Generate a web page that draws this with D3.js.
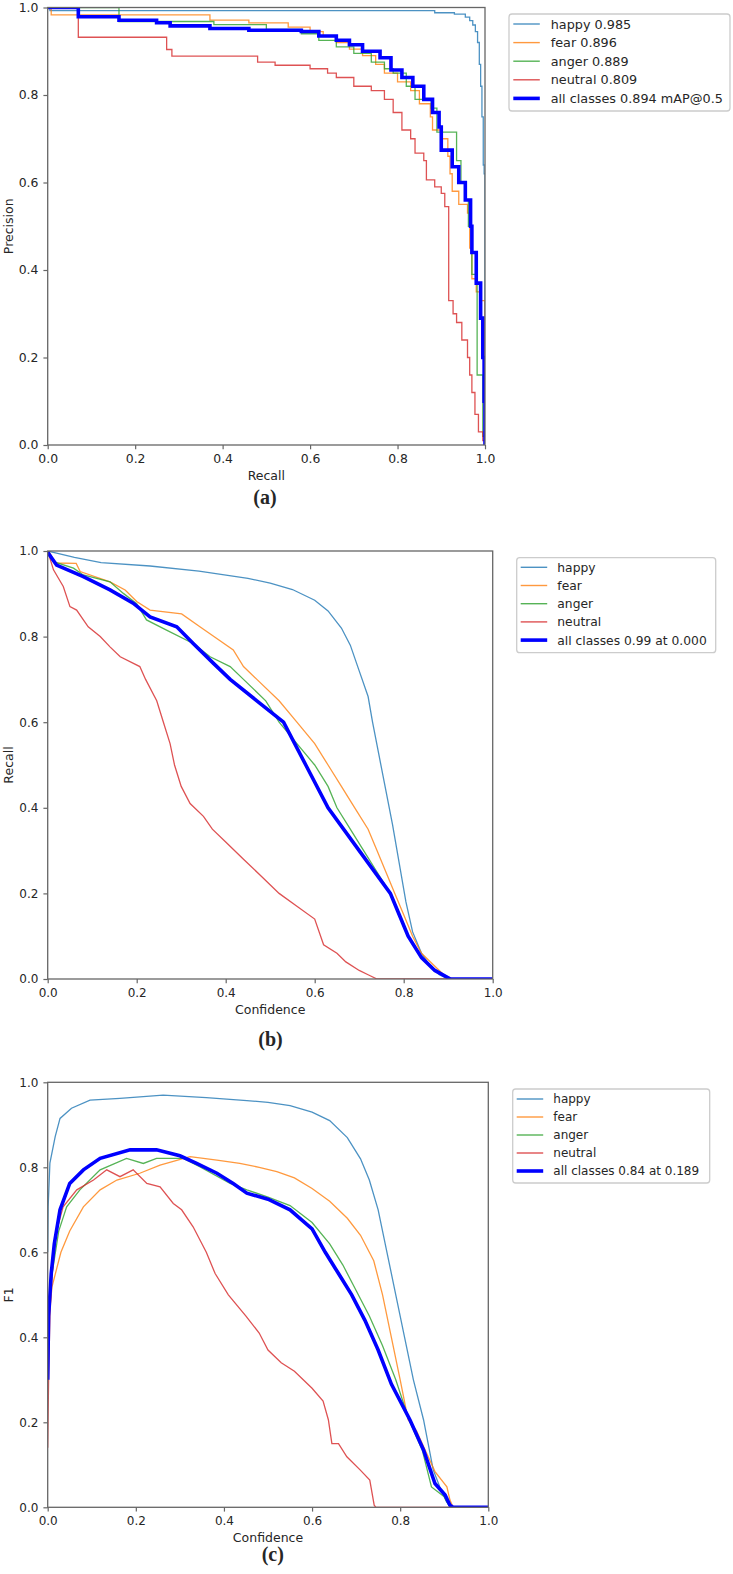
<!DOCTYPE html>
<html><head><meta charset="utf-8">
<script src="https://cdn.jsdelivr.net/npm/d3@7"></script>
<style>
html,body{margin:0;padding:0;background:#fff;}
svg{display:block;}
text{font-family:"DejaVu Sans",sans-serif;fill:#262626;}
</style></head>
<body>
<svg id="chart" width="733" height="1574"></svg>
<script>
// ---------- data ----------
const classNames = ["happy","fear","anger","neutral"];
const ticks = [0,0.2,0.4,0.6,0.8,1.0];
const tickLabels = ["0.0","0.2","0.4","0.6","0.8","1.0"];

// (a) Precision-Recall  [recall, precision]
const prHappy = [[0,1],[0.005,0.993],[0.885,0.988],[0.93,0.985],[0.955,0.978],[0.965,0.97],[0.972,0.96],[0.978,0.945],[0.983,0.92],[0.987,0.87],[0.99,0.82],[0.993,0.75],[0.996,0.64],[0.998,0.62],[1.0,0]];
const prFear = [[0,1],[0.008,0.983],[0.371,0.971],[0.46,0.965],[0.55,0.955],[0.6,0.945],[0.63,0.935],[0.66,0.92],[0.69,0.905],[0.72,0.89],[0.75,0.87],[0.77,0.85],[0.8,0.83],[0.83,0.81],[0.85,0.78],[0.875,0.75],[0.88,0.72],[0.9,0.7],[0.915,0.66],[0.92,0.62],[0.925,0.58],[0.94,0.55],[0.96,0.53],[0.965,0.45],[0.97,0.38],[0.98,0.35],[0.99,0.33],[1.0,0]];
const prAnger = [[0,1],[0.163,0.968],[0.38,0.961],[0.5,0.95],[0.58,0.94],[0.62,0.925],[0.66,0.91],[0.7,0.895],[0.74,0.875],[0.77,0.86],[0.79,0.85],[0.82,0.82],[0.84,0.79],[0.877,0.77],[0.89,0.715],[0.935,0.65],[0.945,0.6],[0.957,0.56],[0.962,0.5],[0.97,0.39],[0.982,0.16],[0.995,0.02],[1.0,0]];
const prNeutral = [[0,1],[0.07,0.932],[0.272,0.904],[0.284,0.889],[0.48,0.875],[0.52,0.868],[0.6,0.86],[0.64,0.85],[0.66,0.84],[0.7,0.82],[0.74,0.81],[0.77,0.79],[0.79,0.76],[0.81,0.72],[0.83,0.7],[0.84,0.667],[0.86,0.65],[0.866,0.606],[0.885,0.59],[0.9,0.575],[0.908,0.545],[0.917,0.33],[0.927,0.30],[0.935,0.28],[0.947,0.24],[0.96,0.2],[0.965,0.16],[0.97,0.12],[0.977,0.07],[0.985,0.03],[0.995,0.01],[1.0,0]];
const prAll = [[0,1],[0.07,0.979],[0.163,0.971],[0.249,0.965],[0.28,0.958],[0.371,0.952],[0.46,0.948],[0.58,0.945],[0.62,0.935],[0.66,0.925],[0.69,0.915],[0.72,0.9],[0.76,0.885],[0.785,0.857],[0.81,0.84],[0.835,0.82],[0.86,0.79],[0.88,0.76],[0.895,0.727],[0.9,0.674],[0.925,0.636],[0.94,0.6],[0.955,0.56],[0.967,0.5],[0.97,0.44],[0.98,0.37],[0.99,0.29],[0.995,0.2],[0.998,0.1],[1.0,0]];
const prLabels = ["happy 0.985","fear 0.896","anger 0.889","neutral 0.809","all classes 0.894 mAP@0.5"];

// (b) Recall-Confidence  [confidence, recall]
const rcHappy = [[0,1],[0.02,0.995],[0.06,0.985],[0.12,0.973],[0.23,0.965],[0.34,0.953],[0.45,0.936],[0.5,0.925],[0.55,0.91],[0.6,0.885],[0.63,0.86],[0.66,0.82],[0.68,0.78],[0.7,0.72],[0.72,0.66],[0.73,0.6],[0.745,0.52],[0.76,0.44],[0.775,0.36],[0.79,0.27],[0.805,0.18],[0.82,0.11],[0.84,0.06],[0.86,0.03],[0.88,0.01],[0.9,0],[1,0]];
const rcFear = [[0,1],[0.005,0.995],[0.016,0.972],[0.064,0.971],[0.073,0.952],[0.14,0.928],[0.174,0.909],[0.2,0.882],[0.23,0.862],[0.301,0.853],[0.342,0.823],[0.417,0.769],[0.44,0.73],[0.47,0.7],[0.52,0.65],[0.56,0.6],[0.6,0.55],[0.63,0.5],[0.66,0.45],[0.69,0.4],[0.72,0.35],[0.74,0.3],[0.76,0.25],[0.78,0.2],[0.8,0.15],[0.82,0.1],[0.84,0.06],[0.87,0.03],[0.89,0.01],[0.91,0],[1,0]];
const rcAnger = [[0,1],[0.013,0.975],[0.058,0.96],[0.08,0.944],[0.14,0.928],[0.17,0.901],[0.2,0.877],[0.222,0.839],[0.267,0.815],[0.327,0.784],[0.365,0.753],[0.41,0.73],[0.44,0.7],[0.49,0.65],[0.52,0.6],[0.56,0.55],[0.6,0.5],[0.63,0.45],[0.65,0.4],[0.68,0.35],[0.71,0.3],[0.74,0.25],[0.77,0.2],[0.79,0.15],[0.81,0.1],[0.84,0.05],[0.87,0.02],[0.9,0],[1,0]];
const rcNeutral = [[0,1],[0.013,0.956],[0.035,0.917],[0.05,0.87],[0.065,0.862],[0.091,0.823],[0.118,0.8],[0.14,0.776],[0.163,0.753],[0.207,0.73],[0.22,0.7],[0.245,0.65],[0.26,0.6],[0.275,0.55],[0.285,0.5],[0.3,0.45],[0.32,0.41],[0.35,0.38],[0.37,0.35],[0.4,0.32],[0.44,0.28],[0.48,0.24],[0.52,0.2],[0.56,0.17],[0.6,0.14],[0.62,0.08],[0.65,0.06],[0.67,0.04],[0.7,0.02],[0.72,0.01],[0.74,0],[1,0]];
const rcAll = [[0,0.997],[0.02,0.967],[0.08,0.94],[0.14,0.909],[0.192,0.878],[0.23,0.846],[0.29,0.823],[0.327,0.784],[0.372,0.738],[0.41,0.7],[0.47,0.65],[0.53,0.6],[0.58,0.5],[0.63,0.4],[0.7,0.3],[0.77,0.2],[0.79,0.15],[0.81,0.1],[0.84,0.05],[0.87,0.02],[0.905,0],[1,0]];
const rcLabels = ["happy","fear","anger","neutral","all classes 0.99 at 0.000"];

// (c) F1-Confidence  [confidence, F1]
const f1Happy = [[0,0.6],[0.001,0.707],[0.005,0.81],[0.017,0.872],[0.028,0.915],[0.054,0.939],[0.096,0.958],[0.164,0.962],[0.262,0.97],[0.36,0.964],[0.452,0.957],[0.5,0.953],[0.55,0.945],[0.6,0.93],[0.64,0.91],[0.68,0.87],[0.71,0.82],[0.73,0.77],[0.75,0.7],[0.77,0.6],[0.79,0.5],[0.81,0.4],[0.83,0.3],[0.853,0.206],[0.875,0.088],[0.89,0.048],[0.905,0.013],[0.915,0],[1,0]];
const f1Fear = [[0,0.3],[0.003,0.45],[0.01,0.52],[0.03,0.6],[0.05,0.65],[0.081,0.707],[0.119,0.747],[0.157,0.77],[0.209,0.786],[0.255,0.805],[0.323,0.825],[0.384,0.817],[0.436,0.809],[0.48,0.8],[0.52,0.79],[0.56,0.775],[0.6,0.75],[0.64,0.72],[0.68,0.68],[0.71,0.64],[0.74,0.58],[0.76,0.5],[0.78,0.4],[0.8,0.3],[0.818,0.206],[0.837,0.18],[0.86,0.127],[0.879,0.084],[0.906,0.048],[0.913,0.017],[0.92,0],[1,0]];
const f1Anger = [[0,0.3],[0.003,0.48],[0.01,0.55],[0.025,0.65],[0.043,0.707],[0.073,0.747],[0.119,0.794],[0.179,0.821],[0.217,0.809],[0.247,0.821],[0.308,0.821],[0.346,0.801],[0.414,0.762],[0.452,0.747],[0.5,0.73],[0.55,0.71],[0.6,0.67],[0.64,0.62],[0.67,0.57],[0.7,0.51],[0.73,0.45],[0.76,0.38],[0.79,0.3],[0.82,0.206],[0.85,0.135],[0.871,0.048],[0.9,0.025],[0.91,0.005],[0.915,0],[1,0]];
const f1Neutral = [[0,0.14],[0.002,0.3],[0.005,0.45],[0.01,0.55],[0.02,0.65],[0.035,0.707],[0.066,0.747],[0.104,0.77],[0.134,0.794],[0.164,0.778],[0.194,0.794],[0.225,0.762],[0.255,0.754],[0.285,0.715],[0.304,0.7],[0.33,0.66],[0.36,0.6],[0.38,0.55],[0.41,0.5],[0.45,0.45],[0.48,0.41],[0.5,0.37],[0.53,0.34],[0.56,0.32],[0.6,0.28],[0.625,0.25],[0.637,0.206],[0.645,0.15],[0.66,0.15],[0.679,0.119],[0.709,0.088],[0.731,0.064],[0.741,0.005],[0.745,0],[1,0]];
const f1All = [[0,0.3],[0.002,0.45],[0.008,0.55],[0.015,0.62],[0.028,0.7],[0.05,0.762],[0.081,0.794],[0.119,0.821],[0.187,0.841],[0.247,0.841],[0.3,0.827],[0.338,0.809],[0.384,0.786],[0.421,0.762],[0.452,0.739],[0.5,0.725],[0.55,0.7],[0.6,0.655],[0.63,0.6],[0.66,0.55],[0.69,0.5],[0.72,0.44],[0.75,0.37],[0.78,0.29],[0.822,0.206],[0.853,0.135],[0.879,0.056],[0.902,0.029],[0.913,0.005],[0.92,0],[1,0]];
const f1Labels = ["happy","fear","anger","neutral","all classes 0.84 at 0.189"];

// ---------- styling ----------
const classColors = ["#1f77b4","#ff7f0e","#2ca02c","#d62728"];
const allColor = "#0000ff";

const svg = d3.select("#chart");

function panel(cfg){
  const x = d3.scaleLinear().domain([0,1]).range([cfg.x0,cfg.x1]);
  const y = d3.scaleLinear().domain([0,1]).range([cfg.y1,cfg.y0]);
  const g = svg.append("g");
  const clipId = "clip"+cfg.id;
  g.append("clipPath").attr("id",clipId).append("rect")
    .attr("x",cfg.x0).attr("y",cfg.y0).attr("width",cfg.x1-cfg.x0).attr("height",cfg.y1-cfg.y0);
  const line = d3.line().x(d=>x(d[0])).y(d=>y(d[1])).curve(cfg.curve);
  const lg = g.append("g").attr("clip-path",`url(#${clipId})`);
  cfg.series.forEach((s,i)=>{
    lg.append("path").datum(s).attr("fill","none")
      .attr("stroke",classColors[i]).attr("stroke-width",1.3).attr("stroke-opacity",0.8)
      .attr("d",line);
  });
  lg.append("path").datum(cfg.all).attr("fill","none")
    .attr("stroke",allColor).attr("stroke-width",3.6).attr("d",line);

  // axes
  const fs = cfg.tickFont;
  const xa = d3.axisBottom(x).tickValues(ticks).tickFormat((d,i)=>tickLabels[i]).tickSizeOuter(0).tickSize(4.3).tickPadding(5);
  const ya = d3.axisLeft(y).tickValues(ticks).tickFormat((d,i)=>tickLabels[i]).tickSizeOuter(0).tickSize(4.3).tickPadding(5);
  const gx = g.append("g").attr("transform",`translate(0,${cfg.y1})`).call(xa);
  const gy = g.append("g").attr("transform",`translate(${cfg.x0},0)`).call(ya);
  [gx,gy].forEach(a=>{
    a.select(".domain").remove();
    a.selectAll(".tick line").attr("stroke","#666").attr("stroke-width",1.2);
    a.selectAll(".tick text").attr("font-size",fs).attr("fill","#262626").style("font-family","DejaVu Sans");
  });
  g.append("rect").attr("x",cfg.x0).attr("y",cfg.y0).attr("width",cfg.x1-cfg.x0).attr("height",cfg.y1-cfg.y0)
    .attr("fill","none").attr("stroke","#666").attr("stroke-width",1.3);

  // titles
  g.append("text").attr("x",(cfg.x0+cfg.x1)/2).attr("y",cfg.y1+35).attr("text-anchor","middle")
    .attr("font-size",12.5).text(cfg.xTitle);
  g.append("text").attr("transform",`translate(13,${(cfg.y0+cfg.y1)/2}) rotate(-90)`).attr("text-anchor","middle")
    .attr("font-size",12.5).text(cfg.yTitle);
  g.append("text").attr("x",cfg.capX).attr("y",cfg.capY).attr("text-anchor","middle")
    .style("font-family","'Liberation Serif','Times New Roman',serif").attr("font-weight","bold")
    .attr("font-size",20).attr("fill","#000").text(cfg.caption);

  // legend
  const L = cfg.legend;
  const lgd = g.append("g");
  lgd.append("rect").attr("x",L.x).attr("y",L.y).attr("width",L.w).attr("height",L.h).attr("rx",3)
    .attr("fill","#fff").attr("stroke","#cccccc").attr("stroke-width",1.3);
  cfg.labels.forEach((lab,i)=>{
    const cy = L.y + L.first + i*L.step;
    lgd.append("line").attr("x1",L.lx).attr("x2",L.lx+26.5).attr("y1",cy).attr("y2",cy)
      .attr("stroke", i<4?classColors[i]:allColor).attr("stroke-width", i<4?1.4:3.6)
      .attr("stroke-opacity", i<4?0.8:1);
    lgd.append("text").attr("x",L.tx).attr("y",cy).attr("dy","0.36em").attr("font-size",L.fs).text(lab);
  });
}

panel({id:"a",x0:47.7,x1:485,y0:7.5,y1:445,curve:d3.curveStepAfter,tickFont:12.4,
  series:[prHappy,prFear,prAnger,prNeutral],all:prAll,labels:prLabels,
  xTitle:"Recall",yTitle:"Precision",caption:"(a)",capX:265,capY:504,
  legend:{x:509,y:14,w:221,h:97,lx:513.3,tx:550.7,first:10,step:18.6,fs:12.8}});
panel({id:"b",x0:47.7,x1:492.7,y0:551,y1:979,curve:d3.curveLinear,tickFont:12,
  series:[rcHappy,rcFear,rcAnger,rcNeutral],all:rcAll,labels:rcLabels,
  xTitle:"Confidence",yTitle:"Recall",caption:"(b)",capX:270.5,capY:1046,
  legend:{x:516.7,y:557.7,w:199,h:95,lx:520.7,tx:557.3,first:9.6,step:18.2,fs:12.3}});
panel({id:"c",x0:47.7,x1:488.3,y0:1082.3,y1:1507.3,curve:d3.curveLinear,tickFont:12,
  series:[f1Happy,f1Fear,f1Anger,f1Neutral],all:f1All,labels:f1Labels,
  xTitle:"Confidence",yTitle:"F1",caption:"(c)",capX:272.8,capY:1561,
  legend:{x:512.7,y:1089,w:197,h:94,lx:516.7,tx:553.3,first:10,step:18,fs:12}});
</script>
</body></html>
